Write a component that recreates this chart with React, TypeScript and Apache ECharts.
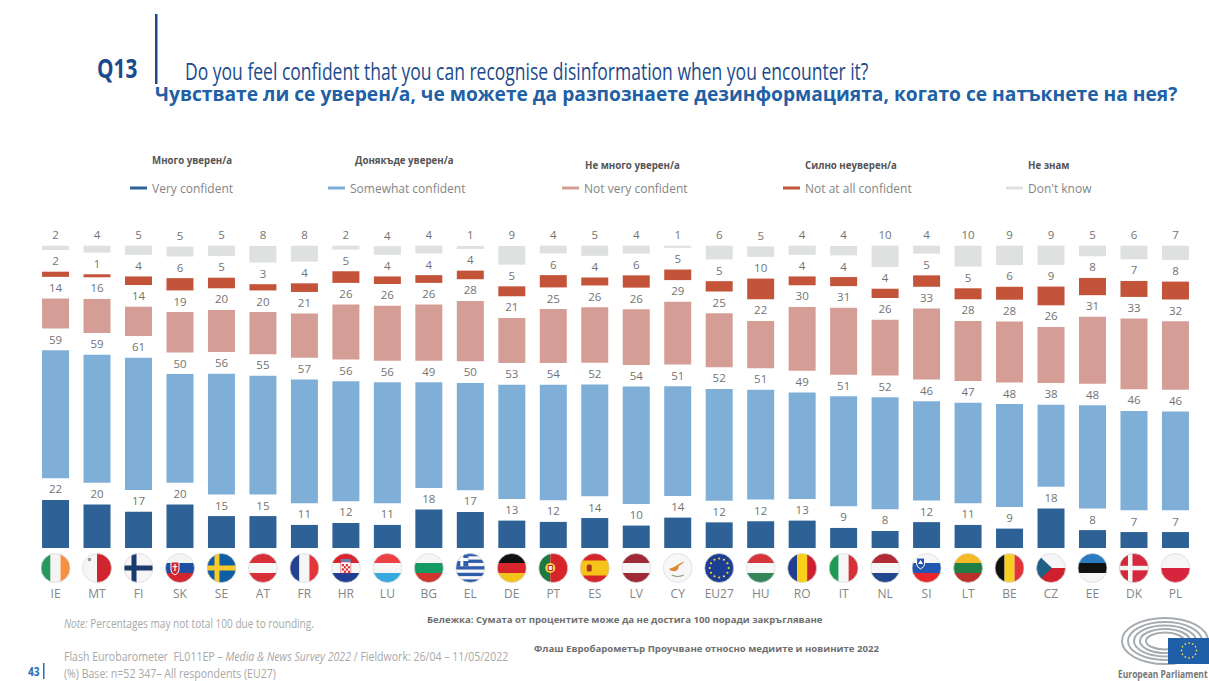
import React, { useEffect, useRef } from "react";
import * as echarts from "echarts";

const categories = ["IE","MT","FI","SK","SE","AT","FR","HR","LU","BG","EL","DE","PT","ES","LV","CY","EU27","HU","RO","IT","NL","SI","LT","BE","CZ","EE","DK","PL"];
const veryConfident = [22.3,20.2,16.8,20.2,14.8,14.8,10.7,11.6,10.7,17.8,16.7,12.7,12.1,13.9,10.4,14.1,11.9,12.4,12.7,9.3,7.9,12,10.7,9,18.3,8.3,7.4,7.4];
const somewhatConfident = [59.4,59.4,61.4,50.4,56,55,57.4,55.7,56.1,49,49.8,53,53.6,51.9,54.4,50.9,51.8,50.9,49.4,51,52,46,46.6,47.7,38.1,47.8,46.1,45.9];
const notVeryConfident = [13.9,15.8,13.6,18.7,19.5,19.5,20.5,25.5,25.5,26,28,20.9,25,25.8,25.8,29.1,25.1,21.9,29.6,31,25.9,33,27.9,28.3,26,31,32.8,31.8];
const notAtAllConfident = [2.4,1.4,4,5.7,4.9,2.9,4,5.4,3.5,3.6,4,4.6,5.7,3.7,5.7,4.9,4.8,9.6,4.1,4.2,4.3,5.3,5.1,6,8.7,8,7.4,8.3];
const dontKnow = [2.2,3.5,4.5,4.6,4.9,7.7,7.5,2,4,3.6,1.4,8.7,3.6,4.9,3.7,1.2,6.4,4.9,4.2,4.4,9.9,3.8,9.7,9,8.9,4.9,6.3,6.6];
const SPACER = 10.05;

const BLUE_T = "#1b4b8c";
const C = { dark: "#2e6296", blue: "#7fafd6", pink: "#d49e96", red: "#c3543a", grey: "#dee1e0" };

const wrap = (inner: string) =>
  "data:image/svg+xml;charset=utf-8," +
  encodeURIComponent(
    `<svg xmlns="http://www.w3.org/2000/svg" width="30" height="30" viewBox="0 0 30 30"><defs><clipPath id="c"><circle cx="15" cy="15" r="14.5"/></clipPath></defs><g clip-path="url(#c)">${inner}</g><circle cx="15" cy="15" r="14.5" fill="none" stroke="#d8d8d8" stroke-width="0.7"/></svg>`
  );
const hor = (a: string, b: string, c: string, extra = "") =>
  wrap(`<rect width="30" height="10" fill="${a}"/><rect y="10" width="30" height="10" fill="${b}"/><rect y="20" width="30" height="10" fill="${c}"/>${extra}`);
const ver = (a: string, b: string, c: string, extra = "") =>
  wrap(`<rect width="10" height="30" fill="${a}"/><rect x="10" width="10" height="30" fill="${b}"/><rect x="20" width="10" height="30" fill="${c}"/>${extra}`);
const cross = (bg: string, fg: string, w: number) =>
  wrap(`<rect width="30" height="30" fill="${bg}"/><rect x="8" width="${w}" height="30" fill="${fg}"/><rect y="${15 - w / 2}" width="30" height="${w}" fill="${fg}"/>`);
const starDots = Array.from({ length: 12 }, (_, i) => {
  const a = (i * Math.PI) / 6;
  return `<circle cx="${15 + 9.5 * Math.cos(a)}" cy="${15 + 9.5 * Math.sin(a)}" r="1.1" fill="#ffd83d"/>`;
}).join("");
let hrChecks = "";
for (let r = 0; r < 4; r++) for (let q = 0; q < 4; q++) if ((r + q) % 2 === 0) hrChecks += `<rect x="${11 + q * 2}" y="${11 + r * 2.2}" width="2" height="2.2" fill="#d8242c"/>`;

const FLAGS: Record<string, string> = {
  IE: ver("#27965f", "#f4f4f4", "#f78f42"),
  MT: wrap(`<rect width="15" height="30" fill="#f6f6f6"/><rect x="15" width="15" height="30" fill="#cf2530"/><rect x="6" y="5" width="3" height="3" fill="#999"/>`),
  FI: cross("#f6f6f6", "#1b3a6d", 5),
  SK: hor("#f4f4f4", "#1f4fa0", "#d3262e", `<path d="M6 9h8v8q0 3-4 5q-4-2-4-5z" fill="#d3262e" stroke="#fff"/><rect x="9.4" y="11" width="1.2" height="7" fill="#fff"/><rect x="7.8" y="13" width="4.4" height="1.2" fill="#fff"/>`),
  SE: cross("#0f5da3", "#f7cb2b", 5),
  AT: hor("#d8303a", "#f6f6f6", "#d8303a"),
  FR: ver("#24408f", "#f6f6f6", "#e5343b"),
  HR: hor("#d8242c", "#f6f6f6", "#1f3f95", `<rect x="10" y="9" width="10" height="11" fill="#fff" stroke="#d8242c" stroke-width=".5"/>${hrChecks}<rect x="10" y="6" width="10" height="3" fill="#6a7fb0"/>`),
  LU: hor("#ee3f42", "#f6f6f6", "#37a8e0"),
  BG: hor("#f6f6f6", "#149a62", "#d2342f"),
  EL: wrap(`<rect width="30" height="30" fill="#f6f6f6"/>${[0, 6.6, 13.2, 19.8, 26.4].map((y) => `<rect y="${y}" width="30" height="3.3" fill="#2f5dab"/>`).join("")}<rect width="13" height="13.2" fill="#2f5dab"/><rect x="5" width="3" height="13.2" fill="#fff"/><rect y="5" width="13" height="3" fill="#fff"/>`),
  DE: hor("#111111", "#d8262c", "#f5c21c"),
  PT: wrap(`<rect width="12" height="30" fill="#1d7a3e"/><rect x="12" width="18" height="30" fill="#d5242c"/><circle cx="12" cy="15" r="5" fill="#f2d13d"/><rect x="10" y="12.5" width="4" height="5" fill="#f6f6f6" stroke="#c0272d"/>`),
  ES: wrap(`<rect width="30" height="30" fill="#d5262c"/><rect y="7.5" width="30" height="15" fill="#f7c21a"/><rect x="7" y="11.5" width="5" height="7" rx="1.5" fill="#a5381f"/>`),
  LV: hor("#9d2a34", "#f6f6f6", "#9d2a34"),
  CY: wrap(`<rect width="30" height="30" fill="#f7f7f7"/><path d="M6 16q4-1 7-3t9-5q-3 4-6 5q0 4-3 5q-4 1-7-2z" fill="#dd8a2e"/><path d="M9 22q6 3 12 0" stroke="#8aa57f" fill="none" stroke-width="1.2"/>`),
  EU27: wrap(`<rect width="30" height="30" fill="#1c3f94"/>${starDots}`),
  HU: hor("#d6363b", "#f6f6f6", "#33855a"),
  RO: ver("#223f8f", "#f9cf18", "#ce1f30"),
  IT: ver("#1f9a55", "#f6f6f6", "#d8303a"),
  NL: hor("#b12a35", "#f6f6f6", "#23478f"),
  SI: hor("#f6f6f6", "#2157b0", "#e8262b", `<path d="M5 5h8v6q0 3-4 5q-4-2-4-5z" fill="#2157b0" stroke="#fff"/><path d="M6.5 11l2.5-4l2.5 4z" fill="#fff"/>`),
  LT: hor("#f7b827", "#1f7f44", "#bb2f2c"),
  BE: ver("#111111", "#f7cf22", "#e0343a"),
  CZ: wrap(`<rect width="30" height="15" fill="#f6f6f6"/><rect y="15" width="30" height="15" fill="#d0202e"/><path d="M0 0L16 15L0 30z" fill="#1f5f86"/>`),
  EE: hor("#2a7bbf", "#111111", "#f6f6f6"),
  DK: wrap(`<rect width="30" height="30" fill="#d5283c"/><rect x="9" width="4.5" height="30" fill="#f6f6f6"/><rect y="12.8" width="30" height="4.5" fill="#f6f6f6"/>`),
  PL: wrap(`<rect width="30" height="15" fill="#f6f6f6"/><rect y="15" width="30" height="15" fill="#d8243c"/>`),
};

const richFlags: Record<string, any> = {};
categories.forEach((c, i) => {
  richFlags["f" + i] = { width: 30, height: 30, backgroundColor: { image: FLAGS[c] } };
});

const FAMILY = '"Open Sans"';
const T = (text: string, x: number, y: number, font: string, fill: string, scaleX = 1, rich?: any) => ({
  type: "text",
  x,
  y,
  scaleX,
  silent: true,
  style: { text, font, fill, textVerticalAlign: "middle", rich },
});

const labelOf = (color = "#737373") => ({
  show: true,
  position: "top",
  distance: 5,
  color,
  fontFamily: FAMILY,
  fontSize: 11.5,
  formatter: (p: any) => String(Math.round(p.value)),
});

const spacer = (stack: string) => ({
  type: "bar",
  stack,
  silent: true,
  itemStyle: { color: "transparent" },
  data: categories.map(() => SPACER),
  barWidth: 27,
});
const seg = (name: string, color: string, data: number[]) => ({
  type: "bar",
  name,
  stack: "s",
  barWidth: 27,
  itemStyle: { color },
  label: labelOf(),
  data,
});

const legendAt = (name: string, left: number) => ({
  data: [name],
  left,
  top: 182,
  padding: 0,
  icon: "rect",
  itemWidth: 17,
  itemHeight: 3,
  selectedMode: false,
  textStyle: { color: "#858585", fontFamily: FAMILY, fontSize: 12 },
});

const logoStars = Array.from({ length: 12 }, (_, i) => ({
  type: "circle",
  shape: { cx: 1189 + 7.5 * Math.cos((i * Math.PI) / 6), cy: 650.5 + 7.5 * Math.sin((i * Math.PI) / 6), r: 0.8 },
  style: { fill: "#f2d13d" },
}));

export default function App() {
  const ref = useRef<HTMLDivElement>(null);
  useEffect(() => {
    const chart = echarts.init(ref.current!, undefined, { renderer: "svg" });
    chart.setOption({
      animation: false,
      backgroundColor: "#ffffff",
      legend: [
        legendAt("Very confident", 130),
        legendAt("Somewhat confident", 328),
        legendAt("Not very confident", 562),
        legendAt("Not at all confident", 783),
        legendAt("Don't know", 1006),
      ],
      grid: { left: 34.8, width: 1161.4, top: 245.7, height: 302.3 },
      xAxis: {
        type: "category",
        data: categories,
        axisLine: { show: false },
        axisTick: { show: false },
        axisLabel: {
          interval: 0,
          margin: 5,
          formatter: (v: string) => `{f${categories.indexOf(v)}|}\n{n|${v}}`,
          rich: {
            ...richFlags,
            n: { color: "#858585", fontFamily: FAMILY, fontSize: 12, height: 20, lineHeight: 20, align: "center" },
          },
        },
      },
      yAxis: { type: "value", min: 0, max: 140.2, show: false, splitLine: { show: false } },
      series: [
        seg("Very confident", C.dark, veryConfident),
        spacer("s"),
        seg("Somewhat confident", C.blue, somewhatConfident),
        spacer("s"),
        seg("Not very confident", C.pink, notVeryConfident),
        spacer("s"),
        seg("Not at all confident", C.red, notAtAllConfident),
        spacer("s"),
        seg("Don't know", C.grey, dontKnow),
      ],
      graphic: [
        { type: "rect", shape: { x: 155, y: 14, width: 2.5, height: 70 }, style: { fill: BLUE_T } },
        T("Q13", 97, 67, `bold 27px ${FAMILY}`, BLUE_T, 0.77),
        T("Do you feel confident that you can recognise disinformation when you encounter it?", 185, 71, `24px ${FAMILY}`, BLUE_T, 0.73),
        T("Чувствате ли се уверен/а, че можете да разпознаете дезинформацията, когато се натъкнете на нея?", 155, 93, `bold 19.2px ${FAMILY}`, "#2160a5", 1),
        T("Много уверен/а", 152, 160, `bold 9.7px ${FAMILY}`, "#555555"),
        T("Донякъде уверен/а", 355, 160, `bold 9.7px ${FAMILY}`, "#555555"),
        T("Не много уверен/а", 585, 165, `bold 9.7px ${FAMILY}`, "#555555"),
        T("Силно неуверен/а", 805, 165, `bold 9.7px ${FAMILY}`, "#555555"),
        T("Не знам", 1028, 165, `bold 9.7px ${FAMILY}`, "#555555"),
        T("{i|Note:} Percentages may not total 100 due to rounding.", 64, 623, `12px ${FAMILY}`, "#a8a8a8", 0.84, {
          i: { fontStyle: "italic", font: `italic 12px ${FAMILY}`, fill: "#a8a8a8" },
        }),
        T("Бележка: Сумата от процентите може да не достига 100 поради закръгляване", 427, 619, `bold 9.6px ${FAMILY}`, "#6f6f6f"),
        T("Флаш Евробарометър Проучване относно медиите и новините 2022", 534, 648, `bold 9.6px ${FAMILY}`, "#6f6f6f"),
        T("Flash Eurobarometer  FL011EP – {i|Media & News Survey 2022} / Fieldwork: 26/04 – 11/05/2022", 64, 656, `12px ${FAMILY}`, "#a8a8a8", 0.88, {
          i: { font: `italic 12px ${FAMILY}`, fill: "#a8a8a8" },
        }),
        T("(%) Base: n=52 347– All respondents (EU27)", 64, 673, `12px ${FAMILY}`, "#a8a8a8", 0.88),
        T("43", 28, 671, `bold 12px ${FAMILY}`, "#2b6cb0", 0.85),
        { type: "rect", shape: { x: 43, y: 663, width: 1.5, height: 16 }, style: { fill: "#2b6cb0" } },
        ...[[43, 23], [37, 19], [31, 15.5], [25, 12], [19, 8.5]].map(([rx, ry]) => ({
          type: "ellipse",
          shape: { cx: 1165, cy: 641, rx, ry },
          style: { fill: "none", stroke: "#a6abaf", lineWidth: 2 },
        })),
        { type: "rect", shape: { x: 1168, y: 638, width: 41, height: 26 }, style: { fill: "#1f5ea8" } },
        ...logoStars,
        T("European Parliament", 1118, 674, `bold 11px ${FAMILY}`, "#777777", 0.77),
      ],
    });
    return () => chart.dispose();
  }, []);
  return <div ref={ref} style={{ position: "absolute", left: 0, top: 0, width: 1209, height: 681 }} />;
}
